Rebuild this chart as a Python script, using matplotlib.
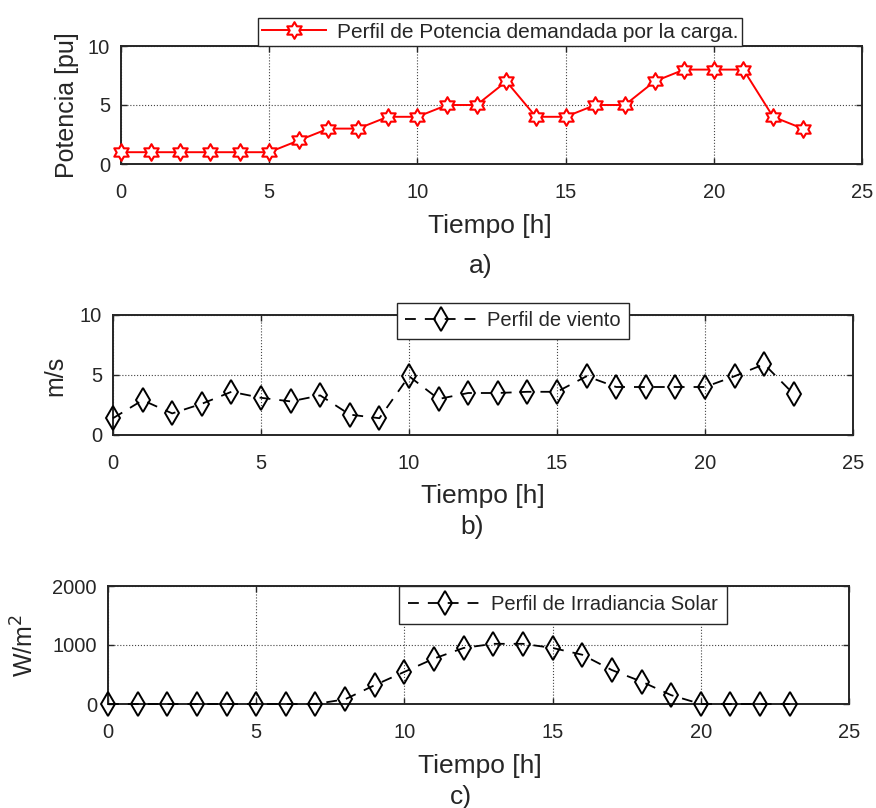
import numpy as np
import matplotlib
matplotlib.use("Agg")
import matplotlib.pyplot as plt
from matplotlib.path import Path

# ---------------- data ----------------
hours = list(range(24))
potencia = [1, 1, 1, 1, 1, 1, 2, 3, 3, 4, 4, 5, 5, 7, 4, 4, 5, 5, 7, 8, 8, 8, 4, 3]
viento = [1.4, 2.9, 1.8, 2.6, 3.6, 3.1, 2.8, 3.3, 1.7, 1.4, 4.9, 3.0, 3.5, 3.5,
          3.6, 3.6, 4.9, 4.0, 4.0, 4.0, 4.0, 4.9, 5.9, 3.4]
irradiancia = [0, 0, 0, 0, 0, 0, 0, 0, 80, 320, 545, 770, 950, 1020, 1020, 950,
               835, 575, 380, 150, 0, 0, 0, 0]
xticks = [0, 5, 10, 15, 20, 25]
label_a = "Perfil de Potencia demandada por la carga."
label_b = "Perfil de viento"
label_c = "Perfil de Irradiancia Solar"

plt.rcParams['font.family'] = ['Liberation Sans', 'DejaVu Sans']
TXT = '#262626'

W, H = 876, 808
fig = plt.figure(figsize=(W / 100, H / 100), dpi=100)


def fx(px):
    return px / W


def fy(py):
    return (H - py) / H


def make_ax(left, right, top, bottom):
    return fig.add_axes([fx(left), fy(bottom), fx(right) - fx(left), fy(top) - fy(bottom)])


# hexagram marker
verts = []
for k in range(12):
    ang = np.deg2rad(90 + 30 * k)
    r = 1.0 if k % 2 == 0 else 0.577
    verts.append((r * np.cos(ang), r * np.sin(ang)))
verts.append(verts[0])
hexagram = Path(verts, [Path.MOVETO] + [Path.LINETO] * 11 + [Path.CLOSEPOLY])

ax_a = make_ax(121, 862, 46, 164)
ax_b = make_ax(113, 853, 315, 435)
ax_c = make_ax(108, 849, 586, 704)

ax_a.plot(hours, potencia, color='red', lw=1.4, marker=hexagram, ms=12,
          mew=1.5, mfc='white', mec='red', clip_on=False, zorder=3, label=label_a)
ax_b.plot(hours, viento, color='black', lw=1.3, ls=(0, (6, 5)), marker='d', ms=12,
          mew=1.4, mfc='none', mec='black', clip_on=False, zorder=3, label=label_b)
ax_c.plot(hours, irradiancia, color='black', lw=1.3, ls=(0, (6, 5)), marker='d', ms=12,
          mew=1.4, mfc='none', mec='black', clip_on=False, zorder=3, label=label_c)

ax_a.set_ylim(0, 10)
ax_a.set_yticks([0, 5, 10])
ax_b.set_ylim(0, 10)
ax_b.set_yticks([0, 5, 10])
ax_c.set_ylim(0, 2000)
ax_c.set_yticks([0, 1000, 2000])

for ax in (ax_a, ax_b, ax_c):
    ax.set_xlim(0, 25)
    ax.set_xticks(xticks)
    ax.grid(True, which='major', ls=':', color='#444444', lw=0.8)
    ax.set_axisbelow(True)
    ax.tick_params(direction='in', top=True, right=True, length=4, width=1,
                   labelsize=14.5, labelcolor=TXT, color='#262626')
    ax.tick_params(axis='x', pad=14)
    ax.tick_params(axis='y', pad=8)
    for s in ax.spines.values():
        s.set_linewidth(1.4)
        s.set_color('#262626')

# y labels
fig.text(fx(67), fy(105), "Potencia [pu]", rotation=90, ha='center', va='center',
         fontsize=18, color=TXT)
fig.text(fx(55), fy(376), "m/s", rotation=90, ha='center', va='center',
         fontsize=18, color=TXT)
fig.text(fx(25), fy(646), r"W/m$^2$", rotation=90, ha='center', va='center',
         fontsize=18, color=TXT)

# x labels and panel tags
for cx, by, tx, tby, tag in [(490, 233, 481, 273, "a)"),
                              (483, 503, 472, 534, "b)"),
                              (480, 773, 461, 804, "c)")]:
    fig.text(fx(cx), fy(by), "Tiempo [h]", ha='center', va='baseline',
             fontsize=19, color=TXT)
    fig.text(fx(tx), fy(tby), tag, ha='center', va='baseline', fontsize=19, color=TXT)

leg_kw = dict(loc='center', fancybox=False, framealpha=1, edgecolor='#262626',
              borderaxespad=0, handletextpad=0.5)
la = ax_a.legend(bbox_to_anchor=(fx(500), fy(32)), bbox_transform=fig.transFigure,
                 fontsize=15, handlelength=3.1, borderpad=0.2, **leg_kw)
lb = ax_b.legend(bbox_to_anchor=(fx(513), fy(321)), bbox_transform=fig.transFigure,
                 fontsize=14.5, handlelength=3.6, borderpad=0.4, **leg_kw)
lc = ax_c.legend(bbox_to_anchor=(fx(563), fy(605)), bbox_transform=fig.transFigure,
                 fontsize=14.5, handlelength=3.6, borderpad=0.45, **leg_kw)
for lg in (la, lb, lc):
    lg.get_frame().set_linewidth(1.0)
    for t in lg.get_texts():
        t.set_color(TXT)

fig.savefig("out.png", dpi=100)
